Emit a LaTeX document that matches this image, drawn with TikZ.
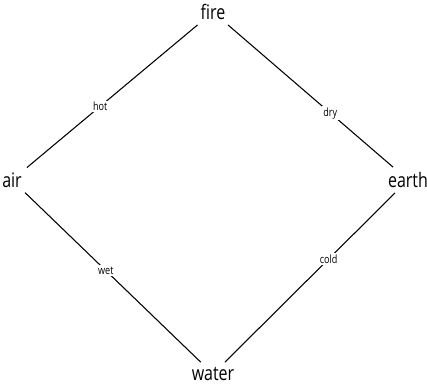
\documentclass[tikz,border=0pt]{standalone}
\usepackage{fontspec}
\setsansfont[FakeStretch=0.8]{Open Sans}
\renewcommand{\familydefault}{\sfdefault}
\tikzset{
  element/.style={inner sep=3.5pt, font=\fontsize{15}{16}\selectfont},
  quality/.style={fill=white, inner sep=1pt, font=\fontsize{8.5}{9}\selectfont}
}
\begin{document}
\begin{tikzpicture}[x=0.75pt,y=-0.75pt,thick]
	\useasboundingbox (0,0) rectangle (427,387);
	\node[element] (fire) at (213,12) {fire};
	\node[element] (air) at (12,180) {air};
	\node[element] (earth) at (408,180) {earth};
	\node[element] (water) at (213,374) {water};
	\draw (fire)--(air) node[quality,pos=0.57] {hot};
	\draw (fire)--(earth) node[quality,pos=0.62] {dry};
	\draw (air)--(water) node[quality,pos=0.46] {wet};
	\draw (water)--(earth) node[quality,pos=0.61] {cold};
\end{tikzpicture}
\end{document}
